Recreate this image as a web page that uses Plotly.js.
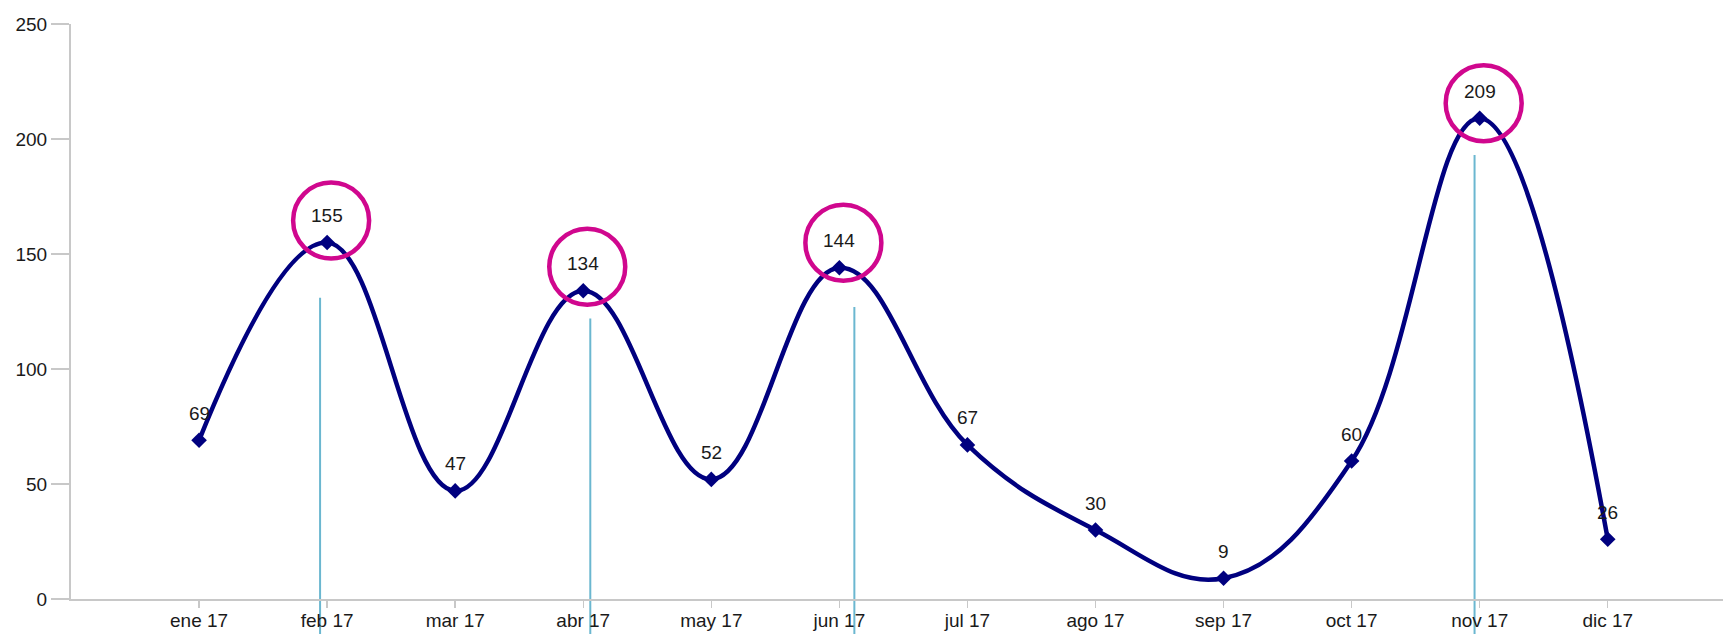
<!DOCTYPE html>
<html><head><meta charset="utf-8">
<script src="https://cdn.plot.ly/plotly-3.0.1.min.js"></script>
<style>html,body{margin:0;padding:0;background:#fff}#chart{width:1723px;height:634px}</style>
</head><body><div id="chart"></div>
<script>
const months = ["ene 17","feb 17","mar 17","abr 17","may 17","jun 17","jul 17","ago 17","sep 17","oct 17","nov 17","dic 17"];
const values = [69,155,47,134,52,144,67,30,9,60,209,26];
const highlightMonths = ["feb 17","abr 17","jun 17","nov 17"];
const guideShift = [-0.055,0.055,0.117,-0.04];
const guideTops = [131,122,127,193];
const circleLift = [22,24,25,15];
const yTicks = [0,50,100,150,200,250];
const yMax = 250;

const idx = months.map((m,i)=>i);
const font = {family:"Liberation Sans, Arial, sans-serif", size:19, color:"#1a1a1a"};

const trace = {
  x: idx, y: values, type:"scatter", mode:"lines+markers",
  line:{color:"#00007f", width:4.5, shape:"spline", smoothing:1.15},
  marker:{symbol:"diamond", size:12, color:"#00007f"},
  hoverinfo:"skip", cliponaxis:false
};

const annotations = values.map((v,i)=>({
  x:i, y:v, xref:"x", yref:"y", text:String(v), showarrow:false,
  yshift:27, font:font
}));

const shapes = [];
highlightMonths.forEach((m,k)=>{
  const i = months.indexOf(m);
  shapes.push({type:"line", xref:"x", yref:"paper", x0:i+guideShift[k], x1:i+guideShift[k],
    y0:-0.07, y1:guideTops[k]/yMax, line:{color:"#6bb7d0", width:2}, layer:"below"});
});
highlightMonths.forEach((m,k)=>{
  const i = months.indexOf(m);
  const c = circleLift[k];
  shapes.push({type:"circle", xref:"x", yref:"y", xsizemode:"pixel", ysizemode:"pixel",
    xanchor:i, yanchor:values[i], x0:-34, x1:42, y0:c-38, y1:c+38,
    line:{color:"#d0078e", width:4.5}});
});

const layout = {
  width:1723, height:634, margin:{l:71, r:0, t:24, b:35},
  paper_bgcolor:"#fff", plot_bgcolor:"#fff", showlegend:false,
  font:font,
  xaxis:{range:[-1,11.9], tickvals:idx, ticktext:months, showgrid:false, zeroline:false,
    showline:true, linecolor:"#c8c8c8", linewidth:2, ticks:"outside", ticklen:7,
    tickcolor:"#c8c8c8", tickwidth:1.5, tickfont:font, ticklabelstandoff:-4, fixedrange:true},
  yaxis:{range:[0,yMax], tickvals:yTicks, showgrid:false, zeroline:false,
    showline:true, linecolor:"#c8c8c8", linewidth:2, ticks:"outside", ticklen:18,
    tickcolor:"#c8c8c8", tickwidth:2, tickfont:font, fixedrange:true},
  annotations:annotations, shapes:shapes
};
Plotly.newPlot("chart",[trace],layout,{displayModeBar:false, staticPlot:true});
</script></body></html>
